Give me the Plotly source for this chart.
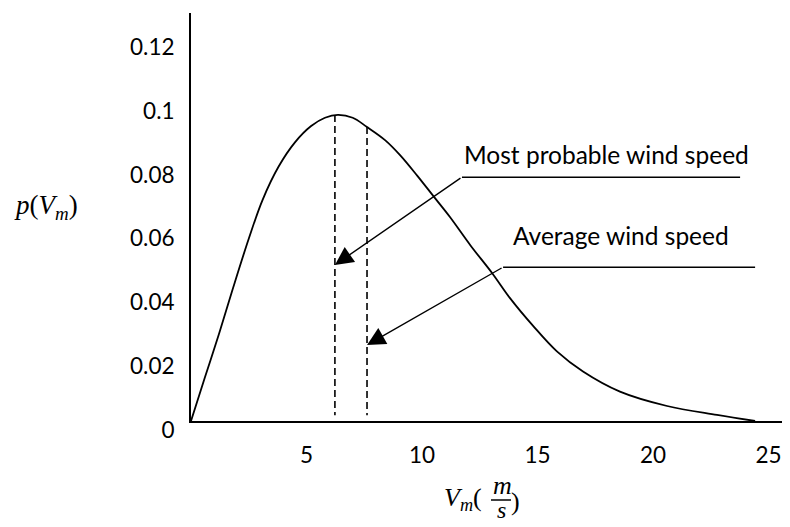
import plotly.graph_objects as go

# ---- data ----
wind_speed = [0, 0.6, 1.2, 1.8, 2.5, 3.1, 3.8, 4.5, 5.2, 5.8, 6.36, 7.0, 7.62, 8.4, 9.05, 9.8,
              10.52, 11.21, 12.1, 13.07, 13.81, 14.81, 15.84, 16.97, 18.57, 20.61, 22.77, 24.42]
probability = [0, 0.0136, 0.0270, 0.0412, 0.0571, 0.0693, 0.0798, 0.0873, 0.0924, 0.0950, 0.0959,
               0.0950, 0.0921, 0.0880, 0.0833, 0.0768, 0.0702, 0.0639, 0.0550, 0.0460, 0.0385,
               0.0298, 0.0218, 0.0155, 0.0092, 0.0047, 0.0019, 0]

marker_names = ["Most probable wind speed", "Average wind speed"]
marker_speeds = [6.23, 7.62]
marker_heights = [0.0959, 0.0921]

y_tickvals = [0, 0.02, 0.04, 0.06, 0.08, 0.1, 0.12]
y_ticktext = ["0", "0.02", "0.04", "0.06", "0.08", "0.1", "0.12"]
x_tickvals = [5, 10, 15, 20, 25]
x_ticktext = ["5", "10", "15", "20", "25"]

FONT = "Lato"
SERIF = "Liberation Serif"

fig = go.Figure()

fig.add_trace(go.Scatter(x=wind_speed, y=probability, mode="lines",
                         line=dict(color="black", width=1.8, shape="spline", smoothing=1.0),
                         hoverinfo="skip", showlegend=False, cliponaxis=False))

for s, h in zip(marker_speeds, marker_heights):
    fig.add_trace(go.Scatter(x=[s, s], y=[h, 0.0018], mode="lines",
                             line=dict(color="black", width=1.6, dash="7px,4px"),
                             hoverinfo="skip", showlegend=False))

# callouts: label x, label y, leader y, leader x0, leader x1, arrow tip y
callouts = [
    (11.73, 0.0836, 0.0764, 11.73, 23.77, 0.0489),
    (13.85, 0.0580, 0.0482, 13.51, 24.42, 0.0238),
]
for name, s, (lx, ly, hy, hx0, hx1, ty) in zip(marker_names, marker_speeds, callouts):
    fig.add_annotation(x=lx, y=ly, text=name, showarrow=False, xanchor="left", yanchor="middle",
                       font=dict(family=FONT, size=24.5, color="black"))
    fig.add_shape(type="line", x0=hx0, x1=hx1, y0=hy, y1=hy, xref="x", yref="y",
                  line=dict(color="black", width=1.5))
    fig.add_annotation(x=s, y=ty, ax=hx0, ay=hy, axref="x", ayref="y", xref="x", yref="y",
                       text="", showarrow=True, arrowhead=2, arrowsize=2.6, arrowwidth=1.4,
                       arrowcolor="black", standoff=0)

# page body has an 8px margin, so the figure is 8px smaller than the window
OFF = 8
W, H = 790 - OFF, 527 - OFF
L, R, T, B = 191 - OFF, 0, 13 - OFF, 106
pw, ph = W - L - R, H - T - B


def px(xw):
    return (xw - OFF - L) / pw


def py(yw):
    return (H - B - (yw - OFF)) / ph


# y-axis title
fig.add_annotation(x=px(12), y=py(207), xref="paper", yref="paper", showarrow=False,
                   xanchor="left", yanchor="middle",
                   text="<i>p</i>(<i>V</i><sub><i>m</i></sub>)",
                   font=dict(family=SERIF, size=27, color="black"))

# x-axis title  V_m(m/s) with stacked fraction
fig.add_annotation(x=px(484), y=py(499), xref="paper", yref="paper", showarrow=False,
                   xanchor="right", yanchor="middle",
                   text="<i>V</i><sub><i>m</i></sub>(",
                   font=dict(family=SERIF, size=26, color="black"))
fig.add_annotation(x=px(502), y=py(486), xref="paper", yref="paper", showarrow=False,
                   xanchor="center", yanchor="middle", text="<i>m</i>",
                   font=dict(family=SERIF, size=26, color="black"))
fig.add_annotation(x=px(501), y=py(510), xref="paper", yref="paper", showarrow=False,
                   xanchor="center", yanchor="middle", text="<i>s</i>",
                   font=dict(family=SERIF, size=24, color="black"))
fig.add_annotation(x=px(509), y=py(501), xref="paper", yref="paper", showarrow=False,
                   xanchor="left", yanchor="middle", text=")",
                   font=dict(family=SERIF, size=26, color="black"))
fig.add_shape(type="line", xref="paper", yref="paper", x0=px(491), x1=px(511),
              y0=py(500), y1=py(500), line=dict(color="black", width=1.5))

fig.update_layout(
    width=W, height=H,
    margin=dict(l=L, r=R, t=T, b=B),
    paper_bgcolor="white", plot_bgcolor="white",
    showlegend=False,
    font=dict(family=FONT, size=22.5, color="black"),
    xaxis=dict(range=[0, pw / 23.1], tickvals=x_tickvals, ticktext=x_ticktext,
               showgrid=False, zeroline=False, showline=True, linecolor="black", linewidth=2,
               ticks="", ticklabelstandoff=13, fixedrange=True),
    yaxis=dict(range=[0, ph / 3192.0], tickvals=y_tickvals, ticktext=y_ticktext,
               showgrid=False, zeroline=False, showline=True, linecolor="black", linewidth=2,
               ticks="", ticklabelstandoff=10, ticklabelshift=9, fixedrange=True),
)

fig.write_html("out.html")
